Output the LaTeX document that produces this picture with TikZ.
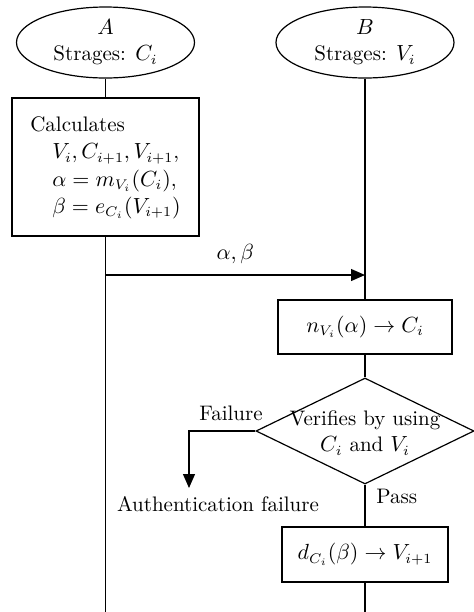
\documentclass[tikz,border=0pt]{standalone}
\usetikzlibrary{shapes.geometric,arrows.meta}

\tikzset{
  party/.style={draw,ellipse,inner sep=0pt,minimum width=89pt,minimum height=35.5pt,align=center},
  procbox/.style={draw,rectangle,inner sep=0pt},
  decision/.style={draw,diamond,inner sep=0pt,minimum width=109pt,minimum height=53pt},
  flow/.style={-{Triangle[length=7pt,width=6pt]}},
}

\begin{document}
\begin{tikzpicture}[x=0.5pt,y=-0.5pt,line width=0.6pt,font=\fontsize{10.5}{13}\selectfont]
        \useasboundingbox (0,0) rectangle (474,612);
        % the two parties
        \node[party] (A) at (105.5,42.5) {$A$\\ Strages: $C_i$};
        \node[party] (B) at (365,42.5) {$B$\\ Strages: $V_i$};
        % side A
        \node[procbox,minimum width=93.5pt,minimum height=69pt] (calc) at (105.5,167) {%
           \renewcommand\arraystretch{1.05}%
           \begin{tabular}{@{}l@{}}
             Calculates\\
             \hspace{11pt}$V_i, C_{i+1}, V_{i+1}$,\\
             \hspace{11pt}$\alpha = m_{V_i}(C_i)$,\\
             \hspace{11pt}$\beta = e_{C_i}(V_{i+1})$
           \end{tabular}};
        \coordinate (Amsg) at (105.5,275);
        \coordinate (Aend) at (105.5,612);
        % side B
        \coordinate (Bmsg) at (365,275);
        \node[procbox,minimum width=87pt,minimum height=27pt] (nbox) at (365,327) {$n_{V_i}(\alpha) \to C_i$};
        \node[decision] (ver) at (365,431) {};
        \node[align=center] (vertxt) at (365,433) {Verifies by using\\ $C_i$ and $V_i$};
        \node[procbox,minimum width=83pt,minimum height=27.5pt] (dbox) at (365,554.5) {$d_{C_i}(\beta) \to V_{i+1}$};
        \coordinate (Bend) at (365,612);
        % failure branch
        \coordinate (fcorner) at (189,431);
        \coordinate (ftip) at (189,488);
        \node (authfail) at (218,504) {Authentication failure};

        \draw (A) -- (calc);
        \draw (calc) -- (Aend);
        \draw (B) -- (nbox);
        \draw[flow] (Amsg) -- (Bmsg) node[midway,above=2pt] {$\alpha,\beta$};
        \draw (nbox) -- (ver);
        \draw (ver.south) -- (dbox) node[pos=0.28,right=2pt] {Pass};
        \draw (dbox) -- (Bend);
        \draw[flow] (ver.west) -- (fcorner) -- (ftip);
        \node (failtxt) at (231,413) {Failure};
      \end{tikzpicture}
\end{document}
